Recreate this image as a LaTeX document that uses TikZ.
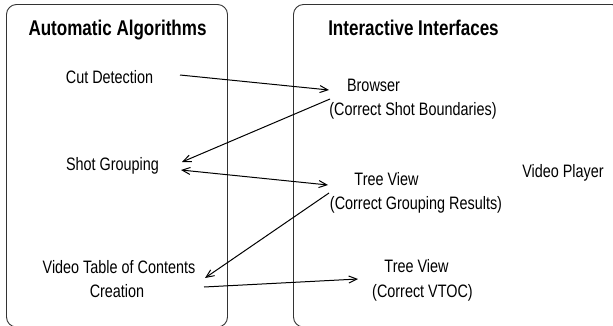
\documentclass[tikz,border=0pt]{standalone}
\usepackage{fontspec}
\setmainfont{Liberation Sans}[FakeStretch=0.80]
\usetikzlibrary{arrows.meta}
\begin{document}
\begin{tikzpicture}[x=1pt,y=-1pt,
  panel/.style={draw=black!80,line width=0.9pt,rounded corners=10pt},
  heading/.style={font=\bfseries\fontsize{21.3}{25}\selectfont,anchor=base,inner sep=0pt},
  label/.style={font=\fontsize{18}{23}\selectfont,anchor=base,inner sep=0pt},
  tip/.tip={Straight Barb[length=8pt,width=7pt]},
  link/.style={line width=1pt,-tip},
  link2/.style={line width=1pt,tip-tip}]
\useasboundingbox (0,0) rectangle (613,325);

% the two panels, running past the lower and right edges
\begin{scope}
  \clip (0,0) rectangle (613,325);
  \draw[panel] (6.5,4.5) rectangle (227.5,327);
  \draw[panel] (293.5,4.5) rectangle (622,327);
\end{scope}

% left panel
\node[heading] (auto) at (117.5,35) {Automatic Algorithms};
\node[label] (cut) at (109.5,83) {Cut Detection};
\node[label] (group) at (112.5,170) {Shot Grouping};
\node[label] (vtoc) at (119,273) {Video Table of Contents};
\node[label] (vtocb) at (117,297) {Creation};

% right panel
\node[heading] (inter) at (413.5,35) {Interactive Interfaces};
\node[label] (browser) at (373.5,91) {Browser};
\node[label] (browserb) at (413,115) {(Correct Shot Boundaries)};
\node[label] (tree) at (386.5,185) {Tree View};
\node[label] (treeb) at (416,209) {(Correct Grouping Results)};
\node[label] (player) at (563,177) {Video Player};
\node[label] (toc) at (416.5,272) {Tree View};
\node[label] (tocb) at (422.5,297) {(Correct VTOC)};

% connector ends
\coordinate (cutR) at (180,75);
\coordinate (browserIn) at (329,90);
\coordinate (browserOut) at (330,99);
\coordinate (groupIn) at (182,162);
\coordinate (groupR) at (181,170);
\coordinate (treeL) at (328,185);
\coordinate (treeOut) at (329,193);
\coordinate (vtocIn) at (205,278);
\coordinate (vtocR) at (204,287);
\coordinate (tocL) at (358,279);

\draw[link] (cutR) -- (browserIn);
\draw[link] (browserOut) -- (groupIn);
\draw[link2] (groupR) -- (treeL);
\draw[link] (treeOut) -- (vtocIn);
\draw[link] (vtocR) -- (tocL);
\end{tikzpicture}
\end{document}
